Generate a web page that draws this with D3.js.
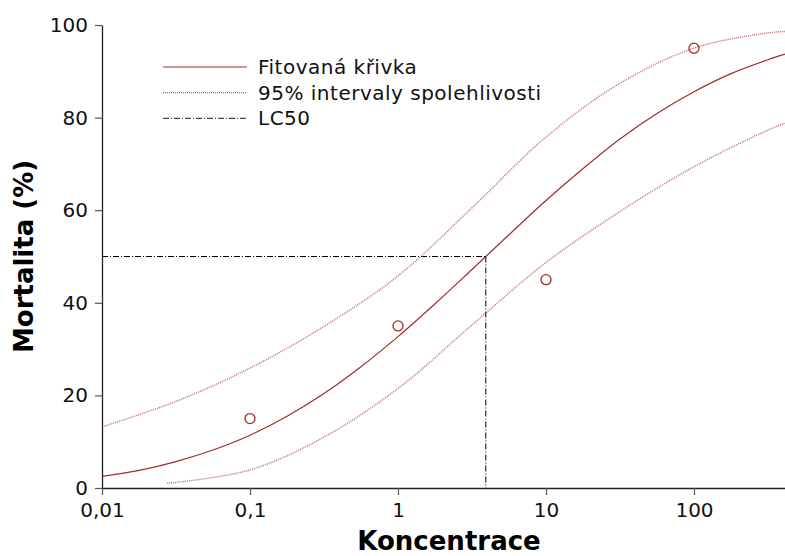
<!DOCTYPE html>
<html>
<head>
<meta charset="utf-8">
<script src="https://cdn.jsdelivr.net/npm/d3@7"></script>
<style>
  html, body { margin: 0; padding: 0; background: #fff; }
  svg { display: block; font-family: "DejaVu Sans", sans-serif; }
</style>
</head>
<body>
<svg id="chart" width="785" height="556"></svg>
<script>
// Observed mortality per tested concentration
const concentrations = [0.1, 1, 10, 100];
const mortality = [15, 35, 45, 95];

// Fitted dose-response curve (concentration, % mortality)
const fitX = [0.01, 0.0178, 0.0316, 0.0562, 0.1, 0.178, 0.316, 0.562, 1, 1.78, 3.16, 5.62, 10, 17.8, 31.6, 56.2, 100, 178, 316, 412];
const fitY = [2.5, 3.8, 5.7, 8.2, 11.4, 15.5, 20.4, 26.2, 32.7, 39.8, 47.2, 54.7, 62.1, 69.0, 75.4, 80.9, 85.6, 89.5, 92.5, 93.7];

// 95% confidence limits
const upperX = [0.01, 0.0316, 0.1, 0.316, 1, 3.16, 10, 31.6, 100, 316, 412];
const upperY = [13.2, 18.7, 25.9, 34.9, 45.8, 60.5, 75.8, 87.4, 95.0, 98.3, 98.6];
const lowerX = [0.0275, 0.1, 0.316, 1, 3.16, 10, 31.6, 100, 316, 412];
const lowerY = [1.0, 3.9, 11.0, 21.5, 35.2, 48.7, 59.7, 69.4, 77.3, 78.8];

// Median lethal concentration
const lc50 = 3.92;
const lc50Level = 50;

const xTicks = [0.01, 0.1, 1, 10, 100];
const xTickLabels = ["0,01", "0,1", "1", "10", "100"];
const yTicks = [0, 20, 40, 60, 80, 100];

const legendLabels = ["Fitovaná křivka", "95% intervaly spolehlivosti", "LC50"];

const svg = d3.select("#chart");
const plotLeft = 102, plotRight = 785, plotTop = 25, plotBottom = 488;
const red = "#a52a2a";

const x = d3.scaleLog().domain([0.01, 412]).range([plotLeft, plotRight]);
const y = d3.scaleLinear().domain([0, 100]).range([plotBottom, plotTop]);

svg.append("defs").append("clipPath").attr("id", "plot")
  .append("rect").attr("x", plotLeft).attr("y", plotTop - 5)
  .attr("width", plotRight - plotLeft).attr("height", plotBottom - plotTop + 5);

const line = d3.line().x(d => x(d[0])).y(d => y(d[1])).curve(d3.curveCatmullRom.alpha(0.5));
const g = svg.append("g").attr("clip-path", "url(#plot)");

// confidence bands
[[upperX, upperY], [lowerX, lowerY]].forEach(([xs, ys]) => {
  g.append("path")
    .datum(xs.map((v, i) => [v, ys[i]]))
    .attr("d", line)
    .attr("fill", "none")
    .attr("stroke", "#c46a6a")
    .attr("stroke-width", 1.4)
    .attr("stroke-dasharray", "1,1");
});

// fitted curve
g.append("path")
  .datum(fitX.map((v, i) => [v, fitY[i]]))
  .attr("d", line)
  .attr("fill", "none")
  .attr("stroke", red)
  .attr("stroke-width", 1.2);

// LC50 guide lines
const dashDot = "6,2,1,2";
svg.append("line")
  .attr("x1", x(0.01)).attr("x2", x(lc50))
  .attr("y1", y(lc50Level)).attr("y2", y(lc50Level))
  .attr("stroke", "#000").attr("stroke-width", 1).attr("stroke-dasharray", dashDot);
svg.append("line")
  .attr("x1", x(lc50)).attr("x2", x(lc50))
  .attr("y1", y(lc50Level)).attr("y2", y(0))
  .attr("stroke", "#000").attr("stroke-width", 1).attr("stroke-dasharray", dashDot);

// observed points
svg.append("g").selectAll("circle")
  .data(concentrations.map((c, i) => [c, mortality[i]]))
  .join("circle")
  .attr("cx", d => x(d[0]))
  .attr("cy", d => y(d[1]))
  .attr("r", 5)
  .attr("fill", "none")
  .attr("stroke", red)
  .attr("stroke-width", 1.3);

// axes
const xAxis = svg.append("g").attr("transform", `translate(0,${plotBottom})`)
  .call(d3.axisBottom(x).tickValues(xTicks).tickFormat((d, i) => xTickLabels[i]).tickSize(7).tickSizeOuter(0).tickPadding(5));
const yAxis = svg.append("g").attr("transform", `translate(${plotLeft},0)`)
  .call(d3.axisLeft(y).tickValues(yTicks).tickSize(7).tickSizeOuter(0).tickPadding(7));

[xAxis, yAxis].forEach(a => {
  a.select(".domain").attr("stroke", "#222").attr("stroke-width", 1.3);
  a.selectAll(".tick line").attr("stroke", "#555").attr("stroke-width", 1.2);
  a.selectAll(".tick text").attr("font-family", "DejaVu Sans, sans-serif").attr("font-size", 20).attr("fill", "#111");
});
xAxis.selectAll(".tick text").attr("dy", "0.85em");

// axis titles
svg.append("text")
  .attr("x", 449).attr("y", 550)
  .attr("text-anchor", "middle")
  .attr("font-size", 26).attr("font-weight", "bold")
  .text("Koncentrace");
svg.append("text")
  .attr("transform", `translate(33,${(plotTop + plotBottom) / 2}) rotate(-90)`)
  .attr("text-anchor", "middle")
  .attr("font-size", 26).attr("font-weight", "bold")
  .text("Mortalita (%)");

// legend
const legendStyles = [
  { stroke: red, dash: null },
  { stroke: red, dash: "1,1" },
  { stroke: "#444", dash: dashDot }
];
const legend = svg.append("g");
legendLabels.forEach((label, i) => {
  const ly = 67 + i * 25.7;
  legend.append("line")
    .attr("x1", 163).attr("x2", 247).attr("y1", ly).attr("y2", ly)
    .attr("stroke", legendStyles[i].stroke)
    .attr("stroke-width", 1.1)
    .attr("stroke-dasharray", legendStyles[i].dash);
  legend.append("text")
    .attr("x", 258).attr("y", ly + 6.8)
    .attr("font-size", 20).attr("letter-spacing", 0.5).attr("fill", "#111")
    .text(label);
});
</script>
</body>
</html>
